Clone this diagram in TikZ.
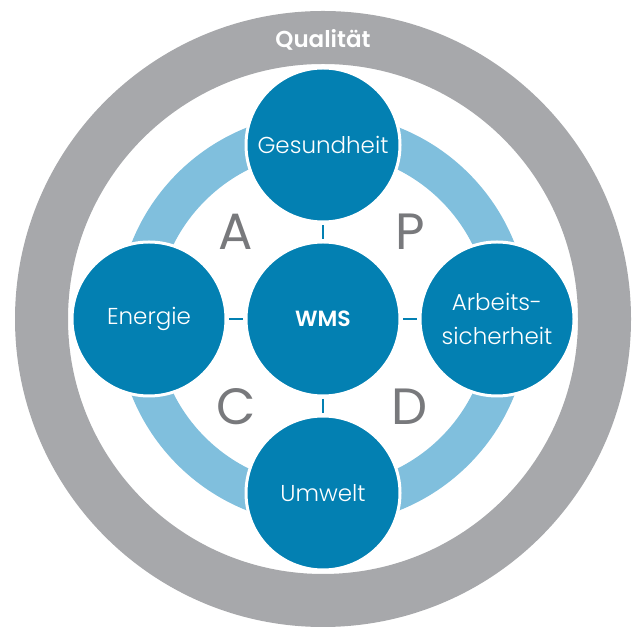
\documentclass[tikz,border=0pt]{standalone}
\usepackage{fontspec}
\setmainfont{Poppins Light}
\newfontfamily\strongfont{Poppins SemiBold}
\newfontfamily\pdcafont{Poppins}

\definecolor{wmsblue}{RGB}{3,128,178}
\definecolor{cycleblue}{RGB}{128,191,221}
\definecolor{ringgray}{RGB}{167,168,171}
\definecolor{lettergray}{RGB}{120,121,124}

\tikzset{
  topic/.style={circle,fill=wmsblue,draw=white,line width=3pt,minimum size=154pt,
    inner sep=0pt,text=white,align=center,font=\fontsize{23}{34}\selectfont},
  pdca/.style={text=lettergray,font=\pdcafont\fontsize{51}{51}\selectfont},
  tick/.style={wmsblue,line width=2pt,shorten <=1.5pt,shorten >=1.5pt}
}

\begin{document}
\begin{tikzpicture}[x=1pt,y=1pt]

\useasboundingbox (0,0) rectangle (642,628);

% quality ring and PDCA ring
\fill[ringgray,even odd rule] (323,309) circle (308) (323,309) circle (255);
\draw[cycleblue,line width=39pt] (323,309) circle (186.5);

\draw (323,588) node(QUAL)[text=white,font=\strongfont\fontsize{23}{23}\selectfont]{Qualität};

\draw (323,309) node(WMS)[topic,font=\strongfont\fontsize{22}{22}\selectfont]{WMS};
\draw (323,483) node(GES)[topic]{Gesundheit};
\draw (497,309) node(ARB)[topic]{Arbeits-\\sicherheit};
\draw (323,135) node(UMW)[topic]{Umwelt};
\draw (149,309) node(ENE)[topic]{Energie};

\draw (236,396) node(LA)[pdca]{A};
\draw (410,396) node(LP)[pdca]{P};
\draw (236,221) node(LC)[pdca]{C};
\draw (410,221) node(LD)[pdca]{D};

\draw[tick] (WMS) -- (GES);
\draw[tick] (WMS) -- (ARB);
\draw[tick] (WMS) -- (UMW);
\draw[tick] (WMS) -- (ENE);

\end{tikzpicture}
\end{document}
